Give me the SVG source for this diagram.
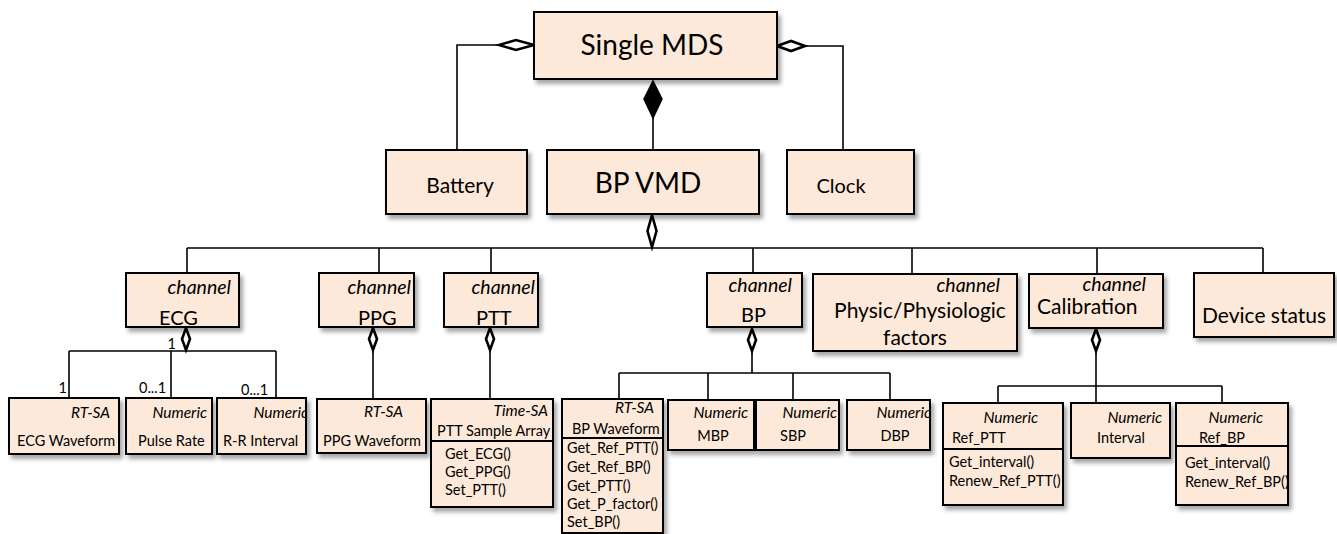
<svg xmlns="http://www.w3.org/2000/svg" width="1337" height="534" viewBox="0 0 1337 534">
<defs>
<style>
.box{fill:#fde9d9;stroke:#000;stroke-width:2;filter:url(#sh)}
.div{stroke:#000;stroke-width:1.8;fill:none}
.ln{stroke:#000;stroke-width:1.6;fill:none}
.dh{fill:#fff;stroke:#000;stroke-width:2.6}
.df{fill:#000;stroke:#000;stroke-width:1.5}
text{font-family:Lato,"Liberation Sans",sans-serif;fill:#000}
.big{font-size:28px}
.med{font-size:21px}
.mid{font-size:20px}
.ch{font-size:19.5px;font-style:italic}
.st{font-size:15.5px;font-style:italic}
.sm{font-size:14.5px}
.lb{font-size:14.5px}
.e{text-anchor:end}
.m{text-anchor:middle}
</style>
<filter id="sh" x="-10%" y="-10%" width="130%" height="140%">
<feDropShadow dx="3" dy="4" stdDeviation="2.2" flood-color="#000" flood-opacity="0.35"/>
</filter>
<clipPath id="cRR"><rect x="217" y="398" width="89" height="56"/></clipPath>
<clipPath id="cDBP"><rect x="847" y="400" width="83" height="50"/></clipPath>
<clipPath id="cRBP"><rect x="1176" y="403" width="112" height="102"/></clipPath>
<clipPath id="cRPTT"><rect x="943" y="403" width="121" height="102"/></clipPath>
</defs>

<g id="connectors">
<polyline class="ln" points="499,45 457,45 457,150"/>
<polygon class="dh" points="534,45 516,40 499,45 516,50"/>
<polyline class="ln" points="805,46 843,46 843,150"/>
<polygon class="dh" points="777,46 791,41 805,46 791,51"/>
<line class="ln" x1="653" y1="118" x2="653" y2="150"/>
<polygon class="df" points="653,81 662,99 653,118 644,99"/>
<polygon class="dh" points="652,215 656.5,231 652,247 647.5,231"/>
<line class="ln" x1="187" y1="248" x2="1263" y2="248"/>
<line class="ln" x1="187" y1="248" x2="187" y2="273"/>
<line class="ln" x1="379" y1="248" x2="379" y2="273"/>
<line class="ln" x1="491" y1="248" x2="491" y2="273"/>
<line class="ln" x1="753" y1="248" x2="753" y2="273"/>
<line class="ln" x1="912" y1="248" x2="912" y2="274"/>
<line class="ln" x1="1097" y1="248" x2="1097" y2="274"/>
<line class="ln" x1="1263" y1="248" x2="1263" y2="273"/>
<polygon class="dh" points="186,328 190,339 186,350 182,339"/>
<line class="ln" x1="69" y1="351" x2="276" y2="351"/>
<line class="ln" x1="69" y1="351" x2="69" y2="398"/>
<line class="ln" x1="171" y1="351" x2="171" y2="398"/>
<line class="ln" x1="276" y1="351" x2="276" y2="398"/>
<text class="lb e" x="176" y="349">1</text>
<text class="lb e" x="67" y="393">1</text>
<text class="lb" x="139" y="393">0...1</text>
<text class="lb" x="241" y="395">0...1</text>
<polygon class="dh" points="373,328 377,339 373,350 369,339"/>
<line class="ln" x1="373" y1="350" x2="373" y2="399"/>
<polygon class="dh" points="490,328 494,339 490,350 486,339"/>
<line class="ln" x1="490" y1="350" x2="490" y2="399"/>
<polygon class="dh" points="752,329 756,340 752,351 748,340"/>
<line class="ln" x1="752" y1="351" x2="752" y2="373"/>
<line class="ln" x1="619" y1="373" x2="890" y2="373"/>
<line class="ln" x1="619" y1="373" x2="619" y2="399"/>
<line class="ln" x1="708" y1="373" x2="708" y2="400"/>
<line class="ln" x1="793" y1="373" x2="793" y2="400"/>
<line class="ln" x1="890" y1="373" x2="890" y2="400"/>
<polygon class="dh" points="1096,329 1100,340 1096,351 1092,340"/>
<line class="ln" x1="1096" y1="351" x2="1096" y2="386"/>
<line class="ln" x1="998" y1="386" x2="1222" y2="386"/>
<line class="ln" x1="998" y1="386" x2="998" y2="403"/>
<line class="ln" x1="1096" y1="386" x2="1096" y2="403"/>
<line class="ln" x1="1222" y1="386" x2="1222" y2="403"/>
</g>

<g id="single-mds"><rect class="box" x="534" y="12" width="243" height="67"/><text class="big m" x="652" y="55">Single MDS</text></g>
<g id="battery"><rect class="box" x="386" y="150" width="141" height="64"/><text class="med m" x="460" y="193">Battery</text></g>
<g id="bp-vmd"><rect class="box" x="547" y="150" width="212" height="64"/><text class="big m" x="648" y="193">BP VMD</text></g>
<g id="clock"><rect class="box" x="787" y="150" width="127" height="64"/><text class="mid m" x="841" y="193">Clock</text></g>

<g id="ch-ecg"><rect class="box" x="126" y="273" width="113" height="54"/><text class="ch e" x="231" y="294">channel</text><text class="mid" x="159" y="325">ECG</text></g>
<g id="ch-ppg"><rect class="box" x="319" y="273" width="95" height="54"/><text class="ch e" x="411" y="294">channel</text><text class="mid" x="358" y="325">PPG</text></g>
<g id="ch-ptt"><rect class="box" x="444" y="273" width="94" height="54"/><text class="ch e" x="535" y="294">channel</text><text class="mid" x="476" y="325">PTT</text></g>
<g id="ch-bp"><rect class="box" x="707" y="273" width="95" height="54"/><text class="ch e" x="792" y="292">channel</text><text class="mid" x="741" y="322">BP</text></g>
<g id="ch-physic"><rect class="box" x="813" y="274" width="204" height="77"/><text class="ch e" x="1000" y="292">channel</text><text class="med m" x="920" y="318">Physic/Physiologic</text><text class="med m" x="915" y="345">factors</text></g>
<g id="ch-calibration"><rect class="box" x="1029" y="274" width="134" height="54"/><text class="ch e" x="1146" y="291">channel</text><text class="med" x="1037" y="314">Calibration</text></g>
<g id="device-status"><rect class="box" x="1194" y="273" width="140" height="64"/><text class="med" x="1202" y="323">Device status</text></g>

<g id="ecg-waveform"><rect class="box" x="9" y="398" width="110" height="56"/><text class="st e" x="110" y="418">RT-SA</text><text class="sm" x="17" y="446">ECG Waveform</text></g>
<g id="pulse-rate"><rect class="box" x="126" y="398" width="86" height="56"/><text class="st e" x="207" y="418">Numeric</text><text class="sm" x="138" y="446">Pulse Rate</text></g>
<g id="rr-interval"><rect class="box" x="217" y="398" width="89" height="56"/><text class="st e" x="308" y="418" clip-path="url(#cRR)">Numeric</text><text class="sm" x="223" y="446">R-R Interval</text></g>

<g id="ppg-waveform"><rect class="box" x="317" y="399" width="109" height="54"/><text class="st e" x="403" y="417">RT-SA</text><text class="sm" x="323" y="446">PPG Waveform</text></g>

<g id="ptt-sample-array"><rect class="box" x="431" y="399" width="122" height="108"/><line class="div" x1="431" y1="441" x2="553" y2="441"/>
<text class="st e" x="548" y="416">Time-SA</text><text class="sm" x="437" y="436">PTT Sample Array</text>
<text class="sm" x="445" y="459">Get_ECG()</text><text class="sm" x="445" y="477">Get_PPG()</text><text class="sm" x="445" y="495">Set_PTT()</text></g>

<g id="bp-waveform"><rect class="box" x="562" y="399" width="101" height="134"/><line class="div" x1="562" y1="438" x2="663" y2="438"/>
<text class="st e" x="654" y="413">RT-SA</text><text class="sm" x="572" y="434">BP Waveform</text>
<text class="sm" x="567" y="453">Get_Ref_PTT()</text><text class="sm" x="567" y="472">Get_Ref_BP()</text><text class="sm" x="567" y="491">Get_PTT()</text><text class="sm" x="567" y="509">Get_P_factor()</text><text class="sm" x="567" y="527">Set_BP()</text></g>

<g id="mbp"><rect class="box" x="668" y="400" width="86" height="50"/><text class="st e" x="748" y="418">Numeric</text><text class="sm m" x="713" y="441">MBP</text></g>
<g id="sbp"><rect class="box" x="756" y="400" width="83" height="50"/><text class="st e" x="837" y="418">Numeric</text><text class="sm m" x="793" y="441">SBP</text></g>
<g id="dbp"><rect class="box" x="847" y="400" width="83" height="50"/><text class="st e" x="931" y="418" clip-path="url(#cDBP)">Numeric</text><text class="sm m" x="895" y="441">DBP</text></g>

<g id="ref-ptt"><rect class="box" x="943" y="403" width="120" height="102"/><line class="div" x1="943" y1="449" x2="1063" y2="449"/>
<text class="st e" x="1038" y="423">Numeric</text><text class="sm" x="952" y="443">Ref_PTT</text>
<g clip-path="url(#cRPTT)"><text class="sm" x="949" y="467">Get_interval()</text><text class="sm" x="949" y="486">Renew_Ref_PTT()</text></g></g>
<g id="interval"><rect class="box" x="1071" y="403" width="99" height="55"/><text class="st e" x="1162" y="423">Numeric</text><text class="sm" x="1097" y="443">Interval</text></g>
<g id="ref-bp"><rect class="box" x="1176" y="403" width="112" height="102"/><line class="div" x1="1176" y1="446" x2="1288" y2="446"/>
<text class="st e" x="1263" y="423">Numeric</text><text class="sm" x="1199" y="443">Ref_BP</text>
<g clip-path="url(#cRBP)"><text class="sm" x="1185" y="468">Get_interval()</text><text class="sm" x="1185" y="487">Renew_Ref_BP()</text></g></g>
</svg>
